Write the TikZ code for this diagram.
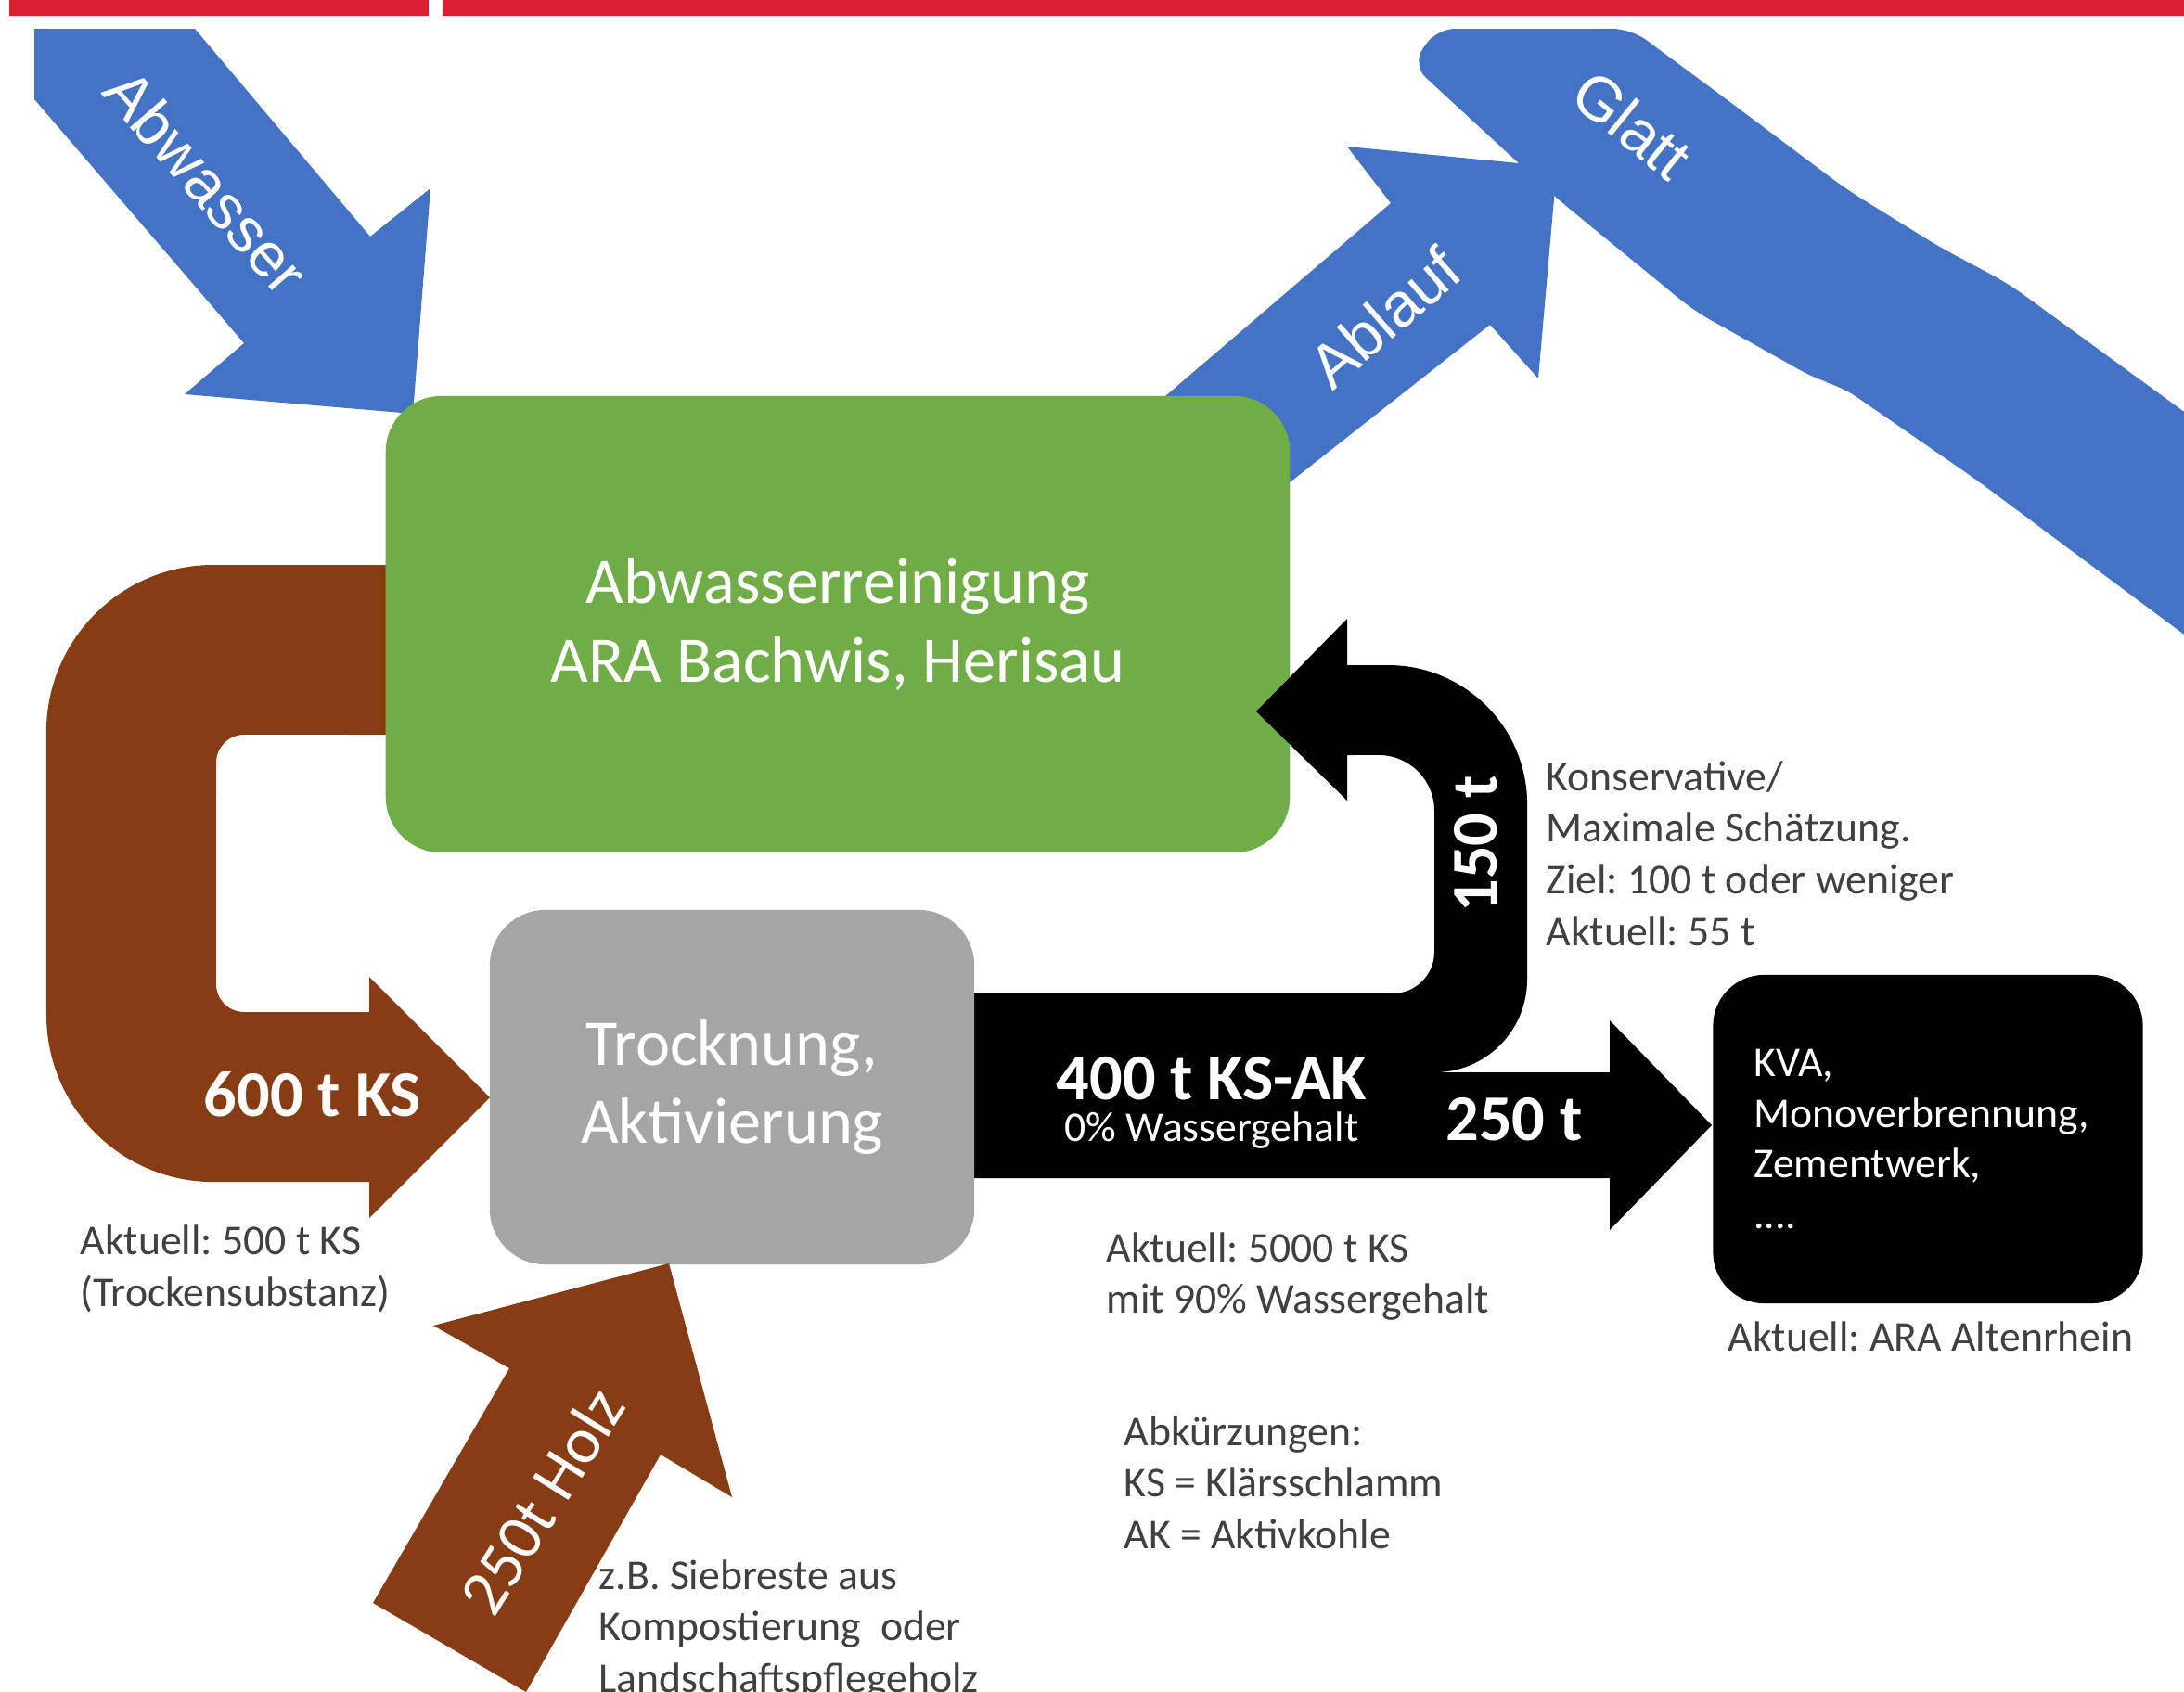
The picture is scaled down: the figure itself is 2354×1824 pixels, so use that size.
\documentclass[tikz,border=0pt]{standalone}
\usepackage{fontspec}
\setmainfont{Carlito}
\newfontfamily\arialfont{Liberation Sans}
\frenchspacing
\definecolor{barred}{RGB}{218,31,51}
\definecolor{flowblue}{RGB}{68,114,196}
\definecolor{aragreen}{RGB}{112,173,71}
\definecolor{drygray}{RGB}{165,165,165}
\definecolor{sludge}{RGB}{136,60,20}
\definecolor{notegray}{RGB}{64,64,64}
\begin{document}
\begin{tikzpicture}[x=0.01cm,y=-0.01cm,
	water/.style={font=\arialfont\fontsize{19}{22}\selectfont,text=white},
	boxtxt/.style={font=\fontsize{20}{24}\selectfont,text=white,align=center},
	flowtxt/.style={font=\bfseries\fontsize{20}{24}\selectfont,text=white},
	notes/.style={font=\fontsize{13}{15.8}\selectfont,text=notegray,align=left,anchor=west,inner sep=0pt}]
	\useasboundingbox (0,0) rectangle (2354,1824);
	\fill[barred] (10,0) rectangle (462,17) (477,0) rectangle (2354,17);
	% Ablauf, Glatt, Abwasser
	\fill[flowblue] (1200,475)--(1499,219)--(1452,158)--(1678,180)--(1658,408)--(1606,350)--(1300,591)--cycle;
	\fill[flowblue,rounded corners=2mm] (1650,31)--(1758,31)--(1862,108)--(1990,204)--(2090,266)--(2165,306)--(2420,492)--(2420,733)--(2252,608)--(2130,517)--(1984,416)--(1960,410)--(1826,335)--(1677,213)--(1522,70)--(1548,31)--cycle;
	\fill[flowblue] (37,31)--(210,31)--(399,255)--(464,203)--(445,446)--(199,425)--(263,370)--(37,107)--cycle;
	% Klaerschlamm
	\fill[sludge] (500,609)--(230,609) arc[start angle=90,end angle=180,radius=1.8cm]--(50,1094) arc[start angle=180,end angle=270,radius=1.8cm]--(398,1274)--(398,1313)--(528,1183)--(398,1053)--(398,1091)--(263,1091) arc[start angle=270,end angle=180,radius=0.3cm]--(233,822) arc[start angle=180,end angle=90,radius=0.3cm]--(500,792)--cycle;
	\node[boxtxt,fill=aragreen,rounded corners=6mm,minimum width=9.74cm,minimum height=4.92cm] (ara) at (903,673) {Abwasserreinigung\\ARA Bachwis, Herisau};
	% KS-AK
	\fill (1000,1071)--(1501,1071) arc[start angle=270,end angle=360,radius=0.45cm]--(1546,874) arc[start angle=0,end angle=90,radius=0.6cm]--(1452,814)--(1452,863)--(1354,767)--(1452,667)--(1452,717)--(1496,717) arc[start angle=90,end angle=0,radius=1.5cm]--(1646,1056) arc[start angle=0,end angle=-90,radius=1cm]--(1735,1156)--(1735,1100)--(1845,1213)--(1735,1326)--(1735,1270)--(1000,1270)--cycle;
	\node[boxtxt,fill=drygray,rounded corners=6mm,minimum width=5.22cm,minimum height=3.82cm] (dry) at (789,1172) {Trocknung,\\Aktivierung};
	\node[fill=black,rounded corners=5.5mm,minimum width=4.63cm,minimum height=3.54cm,text width=3.75cm,align=left,text=white,font=\fontsize{13}{15.6}\selectfont] (kva) at (2078,1228) {KVA,\\Monoverbrennung,\\Zementwerk,\\....};
	% Holz
	\fill[sludge] (402,1728)--(567,1824)--(712,1568)--(789,1614)--(721,1362)--(467,1429)--(549,1475)--cycle;
	\node[water,rotate=-49] (abw) at (223,196) {Abwasser};
	\node[water,rotate=41] (abl) at (1492,342) {Ablauf};
	\node[water,rotate=-39] (glatt) at (1759,134) {Glatt};
	\node[flowtxt] (ks) at (337,1180) {600 t KS};
	\node[flowtxt] (ksak) at (1306,1163) {400 t KS-AK};
	\node[font=\fontsize{13}{15.6}\selectfont,text=white] (wg) at (1306,1219) {0\% Wassergehalt};
	\node[flowtxt] (rest) at (1632,1207) {250 t};
	\node[flowtxt,rotate=90] (back) at (1591,910) {150 t};
	\node[boxtxt,rotate=58] (holz) at (584,1618) {250t Holz};
	\node[notes] (cons) at (1666,920) {Konservative/\\Maximale Schätzung.\\Ziel: 100 t oder weniger\\Aktuell: 55 t};
	\node[notes] (ts) at (86,1368) {Aktuell: 500 t KS\\(Trockensubstanz)};
	\node[notes] (wet) at (1192,1376) {Aktuell: 5000 t KS\\mit 90\% Wassergehalt};
	\node[notes] (alt) at (1862,1441) {Aktuell: ARA Altenrhein};
	\node[notes] (abk) at (1211,1598) {Abkürzungen:\\KS = Klärsschlamm\\AK = Aktivkohle};
	\node[notes] (sieb) at (645,1757) {z.B. Siebreste aus\\Kompostierung~ oder\\Landschaftspflegeholz};
\end{tikzpicture}
\end{document}
